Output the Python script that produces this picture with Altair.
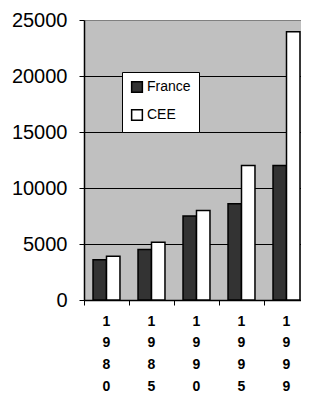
import altair as alt
import pandas as pd

years = ["1980", "1985", "1990", "1995", "1999"]
series = ["France", "CEE"]
france = [3600, 4500, 7500, 8600, 12000]
cee = [3900, 5150, 8000, 12000, 23950]
y_ticks = [0, 5000, 10000, 15000, 20000, 25000]
colors = ["#333333", "#ffffff"]

rows = []
for i, yr in enumerate(years):
    rows.append({"year": yr, "serie": "France", "value": france[i]})
    rows.append({"year": yr, "serie": "CEE", "value": cee[i]})
df = pd.DataFrame(rows)

W = 217
H = 280
STEP = 45
FONT = "Liberation Sans"

bars = alt.Chart(df).mark_bar(stroke="black", strokeWidth=1.5).encode(
    x=alt.X(
        "year:N", sort=years,
        scale=alt.Scale(range=[0, STEP * 5], paddingInner=0, paddingOuter=0),
        axis=alt.Axis(
            title=None, labelAngle=0, bandPosition=0,
            labelExpr="split(datum.label, '')",
            labelFont=FONT, labelFontWeight="bold", labelFontSize=14,
            labelLineHeight=21.7, labelBaseline="top", labelPadding=9,
            labelColor="black", tickSize=5, tickColor="black",
            domainColor="black", domainWidth=1.5,
        ),
    ),
    xOffset=alt.XOffset(
        "serie:N", sort=series,
        scale=alt.Scale(paddingInner=0, paddingOuter=0.67),
    ),
    y=alt.Y(
        "value:Q",
        scale=alt.Scale(domain=[0, 25000], nice=False),
        axis=alt.Axis(
            title=None, values=y_ticks, format="d", grid=True,
            gridColor=alt.condition("datum.value == 25000",
                                    alt.value("#808080"), alt.value("black")),
            gridOpacity=1, gridWidth=1.2,
            labelFont=FONT, labelFontSize=20, labelColor="black",
            labelPadding=12, tickSize=5, tickColor="black",
            domainColor="black", domainWidth=1.5,
        ),
    ),
    color=alt.Color(
        "serie:N", sort=series,
        scale=alt.Scale(domain=series, range=colors),
        legend=alt.Legend(
            title=None, orient="none", legendX=38, legendY=52,
            fillColor="white", strokeColor="black", padding=8,
            symbolType="square", symbolSize=115, symbolStrokeColor="black",
            symbolStrokeWidth=1.5, labelFont=FONT, labelFontSize=14,
            labelColor="black", rowPadding=10, labelOffset=3,
        ),
    ),
)

chart = bars.properties(
    width=W, height=H,
    autosize=alt.AutoSizeParams(type="none"),
    padding={"left": 76, "top": 12, "right": 0, "bottom": 94},
).configure_view(fill="#c0c0c0", strokeWidth=0)

chart.save("out.html", embed_options={"renderer": "svg", "actions": False})
